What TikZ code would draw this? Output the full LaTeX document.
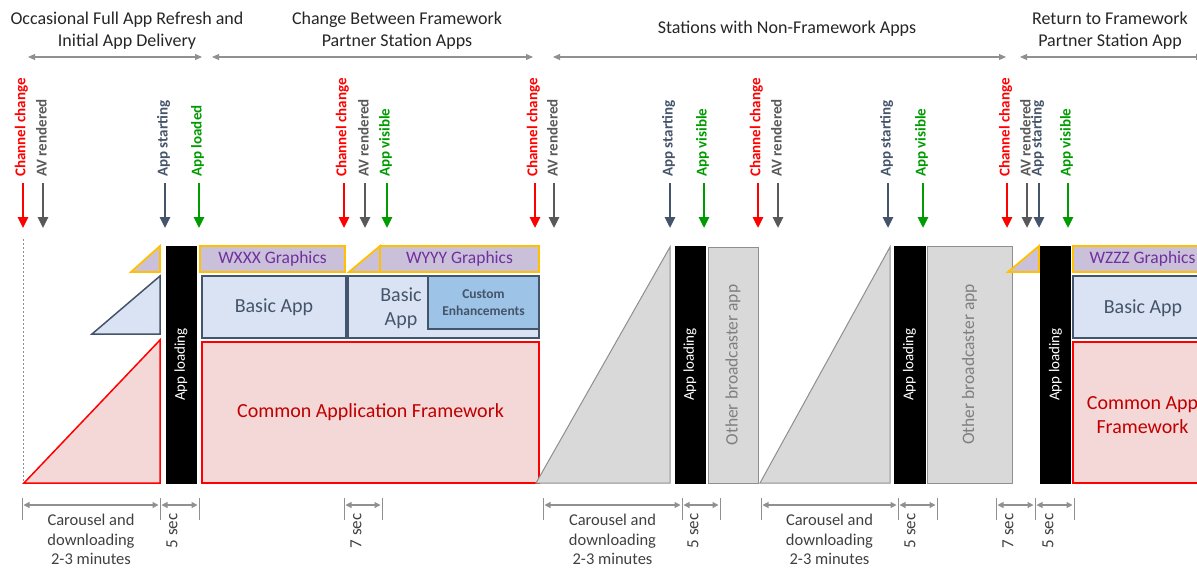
\documentclass[tikz,border=0pt]{standalone}
\usepackage{fontspec}
\setmainfont{Carlito}
\usetikzlibrary{arrows.meta}
\definecolor{cred}{HTML}{FF0000}
\definecolor{avgray}{HTML}{595959}
\definecolor{slate}{HTML}{44546A}
\definecolor{cgreen}{RGB}{0,155,0}
\definecolor{gold}{HTML}{FFC000}
\definecolor{lav}{HTML}{CBC0D9}
\definecolor{purp}{HTML}{7030A0}
\definecolor{lblue}{HTML}{DAE3F3}
\definecolor{mblue}{HTML}{9DC3E6}
\definecolor{lpink}{HTML}{F4D7D7}
\definecolor{dred}{HTML}{C00000}
\definecolor{lgray}{HTML}{D9D9D9}
\definecolor{mgray}{HTML}{8F8F8F}
\definecolor{othtext}{HTML}{7F7F7F}
\definecolor{hdrc}{HTML}{262626}
\definecolor{dimtext}{HTML}{404040}
\definecolor{arrc}{HTML}{909090}
\tikzset{
  hdr/.style={font=\fontsize{18}{22}\selectfont, text=hdrc, align=center, inner sep=0pt},
  harrow/.style={draw=arrc, line width=1.1pt, {Triangle[length=7pt,width=6pt]}-{Triangle[length=7pt,width=6pt]}},
  evlabel/.style={font=\bfseries\fontsize{15}{15}\selectfont, rotate=90, anchor=west, inner sep=0pt},
  evarrow/.style={line width=2.6pt, -{Triangle[length=11pt,width=10pt]}},
  gfx/.style={draw=gold, fill=lav, line width=1.8pt, text=purp, font=\fontsize{17.5}{20}\selectfont, inner sep=0pt},
  basic/.style={draw=slate, fill=lblue, line width=1.5pt, text=slate, font=\fontsize{20}{24}\selectfont, inner sep=0pt, align=center},
  custom/.style={draw=slate, fill=mblue, line width=1.5pt, text=slate, font=\bfseries\fontsize{13.5}{17}\selectfont, inner sep=0pt, align=center},
  caf/.style={draw=cred, fill=lpink, line width=1.5pt, text=dred, font=\fontsize{20}{24}\selectfont, inner sep=0pt, align=center},
  loadbar/.style={fill=black, draw=black, inner sep=0pt, text=white, font=\fontsize{15}{15}\selectfont, rotate=90},
  other/.style={fill=lgray, draw=mgray, line width=1pt, inner sep=0pt, text=othtext, font=\fontsize{17.5}{20}\selectfont, rotate=90},
  gfxtri/.style={draw=gold, fill=lav, line width=1.8pt, line join=miter},
  bluetri/.style={draw=slate, fill=lblue, line width=1.5pt},
  redtri/.style={draw=cred, fill=lpink, line width=1.5pt},
  graytri/.style={draw=mgray, fill=lgray, line width=1pt},
  dimarrow/.style={draw=arrc, line width=1.1pt, {Triangle[length=6pt,width=6pt]}-{Triangle[length=6pt,width=6pt]}, shorten <=1.5pt, shorten >=1.5pt},
  dimtick/.style={draw=arrc, line width=0.9pt},
  dimtxt/.style={font=\fontsize{16.5}{19.5}\selectfont, text=dimtext, align=center, inner sep=0pt},
  sectxt/.style={font=\fontsize{17}{20}\selectfont, text=dimtext, rotate=90, inner sep=0pt},
}
\begin{document}
\begin{tikzpicture}[x=1pt,y=-1pt]
\useasboundingbox (0,0) rectangle (1197,568);
\clip (0,0) rectangle (1197,568);

% headers
\node[hdr] (h1) at (127,31) {Occasional Full App Refresh and\\Initial App Delivery};
\node[hdr] (h2) at (397,31) {Change Between Framework\\Partner Station Apps};
\node[hdr] (h3) at (787,29) {Stations with Non-Framework Apps};
\node[hdr] (h4) at (1110,31) {Return to Framework\\Partner Station App};
\coordinate (ha1) at (28,57);  \coordinate (hb1) at (202,57);
\coordinate (ha2) at (212,57); \coordinate (hb2) at (533,57);
\coordinate (ha3) at (553,57); \coordinate (hb3) at (1006,57);
\coordinate (ha4) at (1020,57); \coordinate (hb4) at (1203,57);
\foreach \i in {1,...,4} \draw[harrow] (ha\i) -- (hb\i);

% event markers
\foreach \x/\c/\t [count=\i] in {
  23/cred/Channel change, 43/avgray/AV rendered, 165/slate/App starting, 199/cgreen/App loaded,
  344/cred/Channel change, 365/avgray/AV rendered, 387/cgreen/App visible,
  535/cred/Channel change, 554/avgray/AV rendered,
  670/slate/App starting, 704/cgreen/App visible,
  758/cred/Channel change, 778/avgray/AV rendered,
  888/slate/App starting, 923/cgreen/App visible,
  1007/cred/Channel change, 1027/avgray/AV rendered, 1039/slate/App starting, 1068/cgreen/App visible} {
  \node[evlabel, text=\c] (ev\i) at (\x-1.5,177) {\t};
  \coordinate (et\i) at (\x,183);
  \coordinate (eb\i) at (\x,228);
  \draw[evarrow, draw=\c] (et\i) -- (eb\i);
}

% dotted start line
\draw[draw=arrc, line width=0.6pt, dash pattern=on 2pt off 2pt] (23,239) -- (23,483);

% section 1
\draw[redtri] (24,483) -- (160,340) -- (160,483) -- cycle;
\draw[bluetri] (92,334) -- (160,276) -- (160,334) -- cycle;
\draw[gfxtri] (131,272) -- (160,246) -- (160,272) -- cycle;
\node[loadbar, minimum width=237pt, minimum height=30pt] (bar1) at (181,364.5) {App loading};

% section 2
\node[caf, minimum width=337pt, minimum height=141pt] (caf1) at (370.5,412.5) {Common Application Framework};
\node[basic, minimum width=144pt, minimum height=62pt] (basic1) at (274,307) {Basic App};
\node[gfx, minimum width=145pt, minimum height=26pt] (wxxx) at (272.5,259) {WXXX Graphics};
\node[basic, minimum width=191pt, minimum height=62pt] (basic2) at (443.5,307) {};
\node[basic, draw=none, fill=none] (basic2t) at (401,308) {Basic\\App};
\node[custom, minimum width=111pt, minimum height=53pt] (cust) at (483.5,302.5) {Custom\\Enhancements};
\draw[gfxtri] (349,272) -- (380,246) -- (380,272) -- cycle;
\node[gfx, minimum width=159pt, minimum height=26pt] (wyyy) at (459.5,259) {WYYY Graphics};

% section 3
\draw[graytri] (536,483) -- (670,247) -- (670,483) -- cycle;
\node[loadbar, minimum width=237pt, minimum height=30pt] (bar2) at (690,364.5) {App loading};
\node[other, minimum width=236pt, minimum height=50pt] (oth1) at (733,365) {Other broadcaster app};
\draw[graytri] (760,483) -- (890,247) -- (890,483) -- cycle;
\node[loadbar, minimum width=237pt, minimum height=31pt] (bar3) at (909.5,364.5) {App loading};
\node[other, minimum width=237pt, minimum height=85pt] (oth2) at (969.5,364.5) {Other broadcaster app};

% section 4
\draw[gfxtri] (1008,272) -- (1039,246) -- (1039,272) -- cycle;
\node[loadbar, minimum width=237pt, minimum height=30pt] (bar4) at (1055.5,364.5) {App loading};
\node[caf, minimum width=140pt, minimum height=141pt] (caf3) at (1143,412.5) {};
\node[caf, draw=none, fill=none] (caf3t) at (1142.5,415) {Common App\\Framework};
\node[basic, minimum width=140pt, minimum height=62pt] (basic3) at (1143,307) {};
\node[basic, draw=none, fill=none] (basic3t) at (1143,308) {Basic App};
\node[gfx, minimum width=140pt, minimum height=26pt] (wzzz) at (1143,259) {};
\node[gfx, draw=none, fill=none] (wzzzt) at (1142.5,259) {WZZZ Graphics};

% dimension lines
\foreach \x [count=\i] in {22,160,199,344,382,543,682,720,761,898,937,996,1035,1074} {
  \coordinate (tt\i) at (\x,498);
  \coordinate (tb\i) at (\x,520);
  \coordinate (ta\i) at (\x,505);
  \draw[dimtick] (tt\i) -- (tb\i);
}
\foreach \a/\b in {1/2,2/3,4/5,6/7,7/8,9/10,10/11,12/13,13/14} \draw[dimarrow] (ta\a) -- (ta\b);

\node[dimtxt] (d1) at (91,539.5) {Carousel and\\downloading\\2-3 minutes};
\node[dimtxt] (d2) at (612.5,539.5) {Carousel and\\downloading\\2-3 minutes};
\node[dimtxt] (d3) at (829.5,539.5) {Carousel and\\downloading\\2-3 minutes};
\node[sectxt] (s1) at (172,531) {5 sec};
\node[sectxt] (s2) at (356,531) {7 sec};
\node[sectxt] (s3) at (693,531) {5 sec};
\node[sectxt] (s4) at (910,531) {5 sec};
\node[sectxt] (s5) at (1008,531) {7 sec};
\node[sectxt] (s6) at (1048,531) {5 sec};
\end{tikzpicture}
\end{document}
